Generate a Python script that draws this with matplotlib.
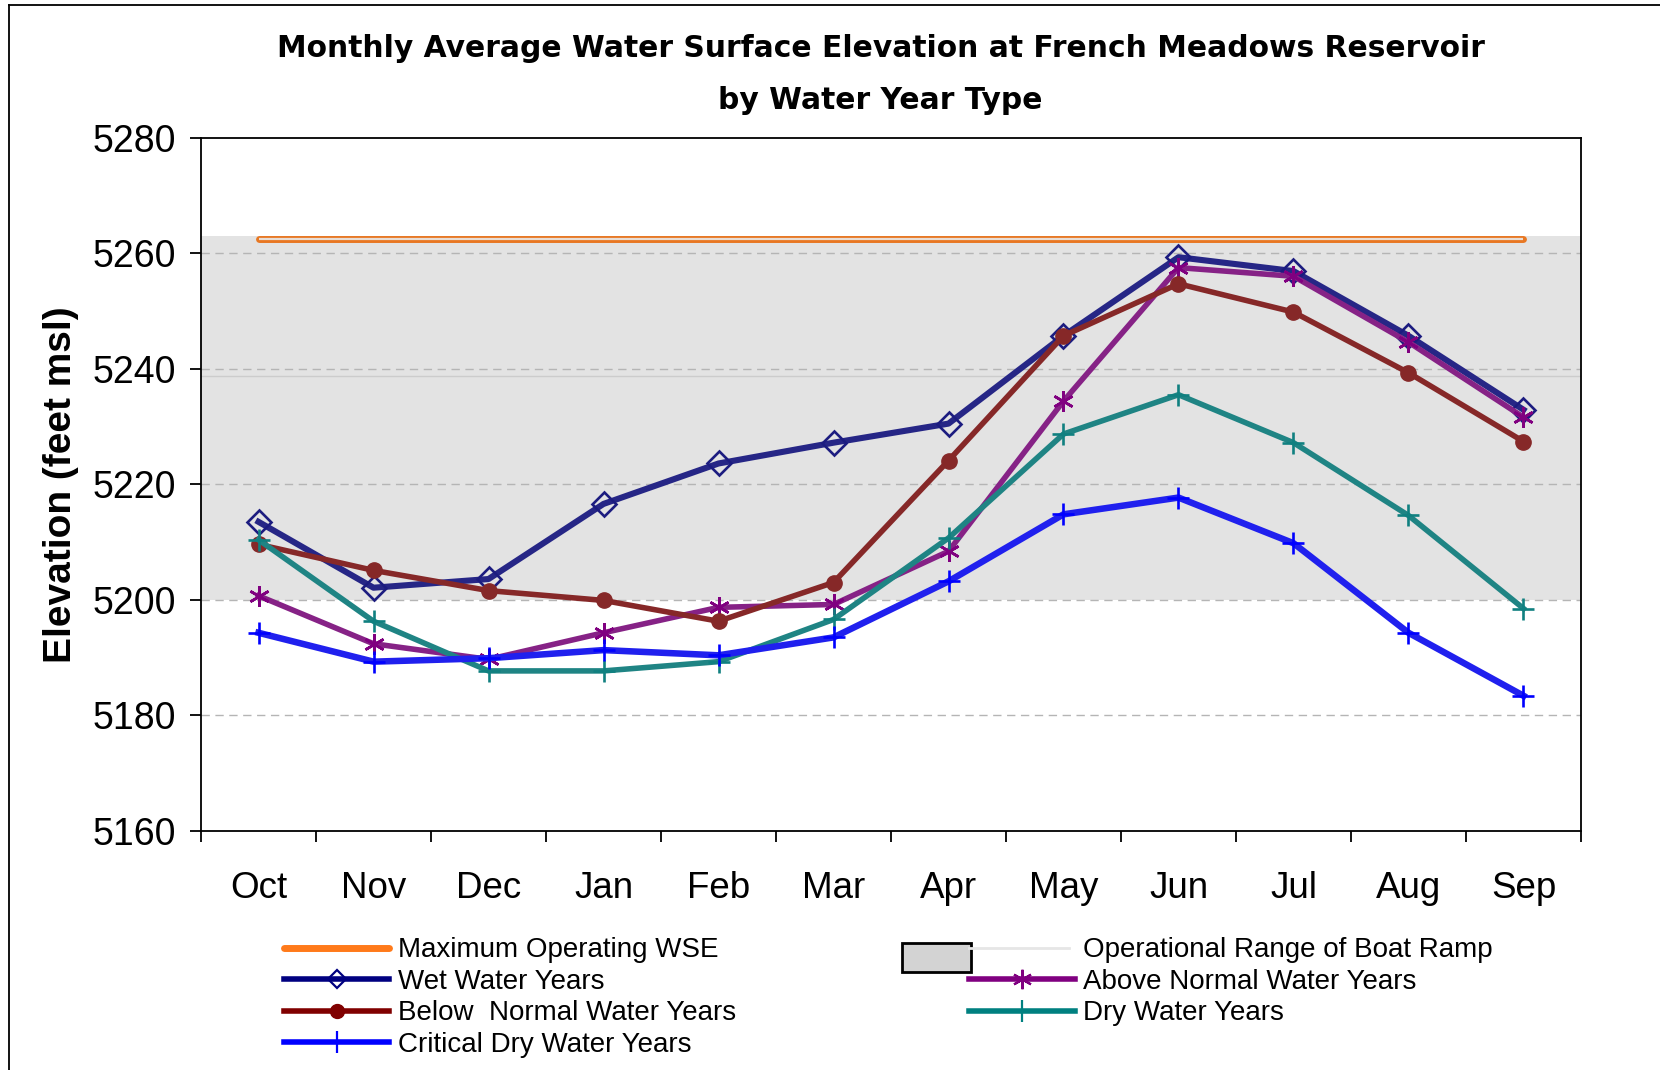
import matplotlib
matplotlib.use("Agg")
import matplotlib.pyplot as plt
from matplotlib.lines import Line2D
from matplotlib.patches import Rectangle, Patch
from matplotlib.legend_handler import HandlerBase

months = ["Oct", "Nov", "Dec", "Jan", "Feb", "Mar", "Apr", "May", "Jun", "Jul", "Aug", "Sep"]

wet = [5213.5, 5202.1, 5203.6, 5216.6, 5223.6, 5227.2, 5230.5, 5245.7, 5259.3, 5256.9, 5245.7, 5232.9]
above_normal = [5200.7, 5192.4, 5189.7, 5194.3, 5198.7, 5199.2, 5208.4, 5234.4, 5257.5, 5256.0, 5244.6, 5231.6]
below_normal = [5209.6, 5205.1, 5201.6, 5199.9, 5196.3, 5203.0, 5224.1, 5245.7, 5254.7, 5249.8, 5239.3, 5227.4]
dry = [5210.4, 5196.3, 5187.7, 5187.7, 5189.3, 5196.6, 5210.7, 5228.7, 5235.5, 5227.2, 5214.6, 5198.5]
critical_dry = [5194.3, 5189.3, 5189.9, 5191.3, 5190.4, 5193.5, 5203.2, 5214.8, 5217.7, 5209.8, 5194.3, 5183.4]

max_operating_wse = 5262.4
boat_ramp_low = 5200.0
boat_ramp_high = 5263.0
boat_ramp_line = 5238.8

y_ticks = [5160, 5180, 5200, 5220, 5240, 5260, 5280]

TXT = ["Liberation Sans", "DejaVu Sans"]

fig = plt.figure(figsize=(16.6, 10.7), dpi=100)
ax = fig.add_axes([0.1211, 0.2234, 0.8313, 0.648])

x = list(range(len(months)))

ax.axhspan(boat_ramp_low, boat_ramp_high, color="#e3e3e3", zorder=0.5, lw=0)
ax.axhline(boat_ramp_line, color="#cccccc", lw=1.0, zorder=0.7)
for yv in y_ticks[1:-1]:
    ax.axhline(yv, color="#b5b5b5", lw=1.0, ls=(0, (6, 4)), zorder=0.8)

ax.plot([x[0], x[-1]], [max_operating_wse] * 2, color="#e87722", lw=5, solid_capstyle="round", zorder=2)
ax.plot([x[0], x[-1]], [max_operating_wse] * 2, color="#e8ded6", lw=1.6, solid_capstyle="butt", zorder=2.1)

ax.plot(x, wet, color="#262686", lw=4.4, marker="D", ms=12, mfc="none", mec="#1c1c80", mew=1.9, zorder=5)
ax.plot(x, above_normal, color="#862286", lw=4.0, marker=(6, 2, 0), ms=15, mec="#800080", mew=1.9, zorder=5)
ax.plot(x, below_normal, color="#862828", lw=4.0, marker="o", ms=11, mfc="#862828", mec="#862828", zorder=5)
ax.plot(x, dry, color="#1f8484", lw=4.0, marker="+", ms=16, mec="#108080", mew=1.9, zorder=5)
ax.plot(x, critical_dry, color="#2020ee", lw=4.7, marker="+", ms=16, mec="#0000ff", mew=1.9, zorder=5)

ax.set_xlim(-0.5, len(months) - 0.5)
ax.set_ylim(y_ticks[0], y_ticks[-1])
ax.set_yticks(y_ticks)
ax.set_yticklabels([str(v) for v in y_ticks], fontsize=27, family=TXT)
ax.set_xticks(x)
ax.set_xticklabels(months, fontsize=26.5, family=TXT)
ax.set_xticks([i - 0.5 for i in range(len(months) + 1)], minor=True)
ax.tick_params(axis="x", which="major", length=0, pad=29)
ax.tick_params(axis="x", which="minor", length=8, width=1.3, direction="out")
ax.tick_params(axis="y", which="major", length=8, width=1.3, direction="out", pad=10)
for s in ax.spines.values():
    s.set_linewidth(1.3)
    s.set_color("black")

ax.set_ylabel("Elevation (feet msl)", fontsize=28, fontweight="bold", family=TXT, labelpad=10)

fig.text(0.5305, 0.955, "Monthly Average Water Surface Elevation at French Meadows Reservoir",
         ha="center", va="center", fontsize=21.4, fontweight="bold", family=["DejaVu Sans"])
fig.text(0.5305, 0.906, "by Water Year Type",
         ha="center", va="center", fontsize=21.4, fontweight="bold", family=["DejaVu Sans"])

# figure frame
fig.add_artist(Line2D([9 / 1660, 9 / 1660], [0, 1 - 4.7 / 1070], color="black", lw=1.3, transform=fig.transFigure))
fig.add_artist(Line2D([9 / 1660, 1], [1 - 4.7 / 1070] * 2, color="black", lw=1.3, transform=fig.transFigure))


class BoxLineHandler(HandlerBase):
    def create_artists(self, legend, orig_handle, xdescent, ydescent, width, height, fontsize, trans):
        bw = width * 0.66
        bh = height * 1.5
        cy = height / 2 - ydescent
        bcy = cy - 0.5 * height
        r = Rectangle((-xdescent - bw * 0.97, bcy - bh / 2), bw, bh, fc="#d3d3d3", ec="black", lw=2.0, transform=trans)
        ln = Line2D([-xdescent, -xdescent + width * 0.95], [cy, cy], color="#e6e6e6", lw=2, transform=trans)
        return [r, ln]


h_max = Line2D([], [], color="#ff7a1a", lw=5, solid_capstyle="round")
h_wet = Line2D([], [], color="#000080", lw=4, marker="D", ms=9, mfc="none", mec="#000080", mew=1.6)
h_bn = Line2D([], [], color="#800000", lw=4, marker="o", ms=10, mfc="#800000", mec="#800000")
h_cd = Line2D([], [], color="#0000ff", lw=4, marker="|", ms=16, mec="#0000ff", mew=1.6)
h_op = Patch(fc="#d3d3d3", ec="black")
h_an = Line2D([], [], color="#800080", lw=4, marker=(6, 2, 0), ms=14, mec="#800080", mew=1.6)
h_dry = Line2D([], [], color="#008080", lw=4, marker="|", ms=16, mec="#008080", mew=1.6)

handles = [h_max, h_wet, h_bn, h_cd, h_op, h_an, h_dry]
labels = ["Maximum Operating WSE", "Wet Water Years", "Below  Normal Water Years", "Critical Dry Water Years",
          "Operational Range of Boat Ramp", "Above Normal Water Years", "Dry Water Years"]

leg = fig.legend(handles, labels, ncol=2, loc="upper left", bbox_to_anchor=(0.171, 0.124),
                 frameon=False, prop={"family": TXT, "size": 20}, handlelength=3.8,
                 handletextpad=0.3, labelspacing=0.2, columnspacing=8.4, borderpad=0, borderaxespad=0,
                 handler_map={Patch: BoxLineHandler()})

fig.savefig("out.png", dpi=100)
